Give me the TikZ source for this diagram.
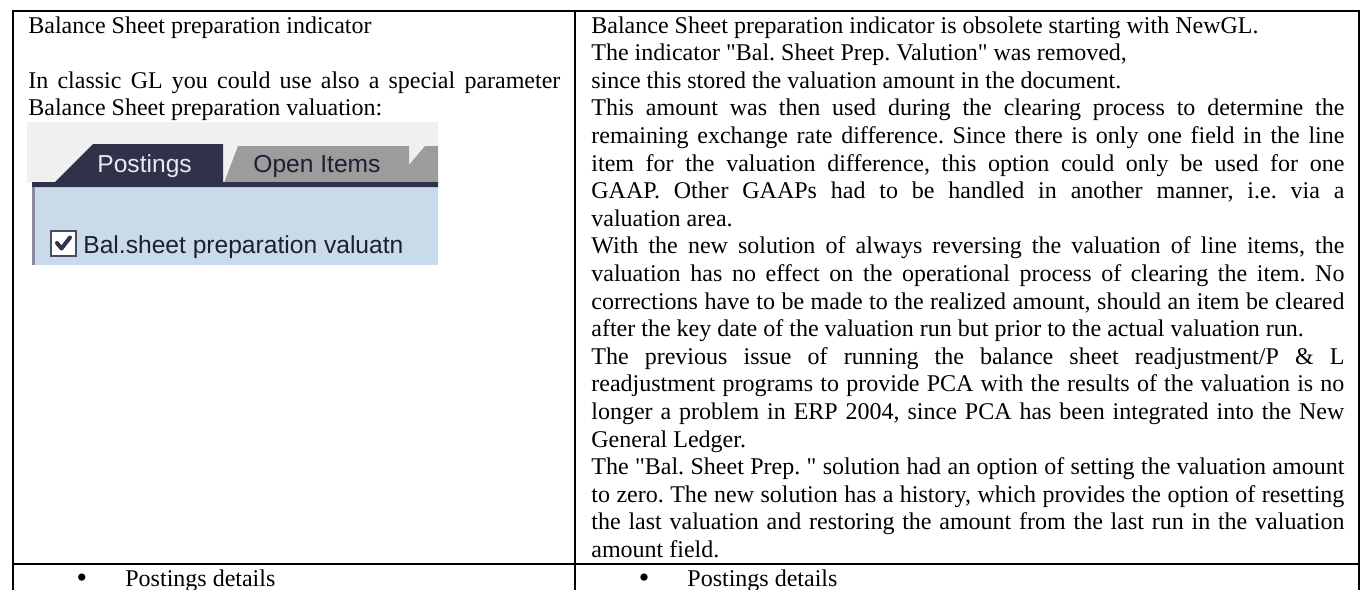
\documentclass[tikz,border=0pt]{standalone}
\usepackage{fontspec}
\setmainfont{Liberation Serif}
\newfontfamily\plainserif{Liberation Serif}
\newfontfamily\guifont{Liberation Sans}
\definecolor{tabbg}{HTML}{F0F0F0}
\definecolor{bluebg}{HTML}{C9DAEA}
\definecolor{greytab}{HTML}{9C9C9C}
\definecolor{darknavy}{HTML}{30324A}
\definecolor{edgegrey}{HTML}{8C8C9C}
\definecolor{guitext}{HTML}{1E1E34}
\definecolor{tabfg}{HTML}{E8E8F2}
\newcommand\J[1]{\makebox[\linewidth][s]{#1}}
\frenchspacing
\begin{document}
\frenchspacing
\begin{tikzpicture}[x=0.5pt,y=-0.5pt,
  txt/.style={inner sep=0pt, anchor=base west, font=\plainserif\fontsize{12pt}{13.8pt}\selectfont\frenchspacing},
  bul/.style={inner sep=0pt, anchor=base, font=\plainserif\fontsize{15pt}{15pt}\selectfont},
  gui/.style={inner sep=0pt, anchor=base west, font=\guifont\fontsize{12.3pt}{14pt}\selectfont},
  grid/.style={line width=0.75pt, draw=black}]
\useasboundingbox (0,0) rectangle (1364,589);
\begin{scope}
\clip (0,0) rectangle (1364,589);
\draw[grid] (13,600) -- (13,11) -- (1359,11) -- (1359,600);
\draw[grid] (575,11) -- (575,600);
\draw[grid] (13,564) -- (1359,564);
\end{scope}
% left column text
\node[txt] (lefttext) at (28,33) {\parbox[t]{266pt}{\frenchspacing%
Balance Sheet preparation indicator\\
\mbox{}\\
\J{In classic GL you could use also a special parameter}\\
Balance Sheet preparation valuation:}};
% screenshot
\fill[tabbg] (27,122) rectangle (438,183);
\fill[bluebg] (32,183) rectangle (438,265);
\fill[greytab] (224,183) -- (238,146) -- (409,146) -- (409,165) -- (425,146) -- (438,146) -- (438,183) -- cycle;
\fill[darknavy] (32,187) -- (32,182) -- (55,182) -- (93,144) -- (223,144) -- (223,182) -- (438,182) -- (438,187) -- cycle;
\fill[edgegrey] (32,187) rectangle (34.5,265);
\draw[fill=white, draw=guitext!80, line width=1pt] (51,231) rectangle (76,256);
\draw[line width=2pt, darknavy, line cap=round, line join=round] (57,243) -- (61.5,248.5) -- (70,237.5);
\node[gui, text=tabfg] (tabpost) at (97,172) {Postings};
\node[gui, text=guitext] (tabopen) at (253,172) {Open Items};
\node[gui, text=guitext] (cblabel) at (83,253) {Bal.sheet preparation valuatn};
% right column text
\node[txt] (righttext) at (591,33) {\parbox[t]{376.5pt}{\frenchspacing%
Balance Sheet preparation indicator is obsolete starting with NewGL.\\
The indicator "Bal. Sheet Prep. Valution" was removed,\\
since this stored the valuation amount in the document.\\
\J{This amount was then used during the clearing process to determine the}\\
\J{remaining exchange rate difference. Since there is only one field in the line}\\
\J{item for the valuation difference, this option could only be used for one}\\
\J{GAAP. Other GAAPs had to be handled in another manner, i.e. via a}\\
valuation area.\\
\J{With the new solution of always reversing the valuation of line items, the}\\
\J{valuation has no effect on the operational process of clearing the item. No}\\
\J{corrections have to be made to the realized amount, should an item be cleared}\\
after the key date of the valuation run but prior to the actual valuation run.\\
\J{The previous issue of running the balance sheet readjustment/P \& L}\\
\J{readjustment programs to provide PCA with the results of the valuation is no}\\
\J{longer a problem in ERP 2004, since PCA has been integrated into the New}\\
General Ledger.\\
\J{The "Bal. Sheet Prep. " solution had an option of setting the valuation amount}\\
\J{to zero. The new solution has a history, which provides the option of resetting}\\
\J{the last valuation and restoring the amount from the last run in the valuation}\\
amount field.}};
% row 2
\node[bul] (bul1) at (82,587) {\textbullet};
\node[txt] (post1) at (125,586) {Postings details};
\node[bul] (bul2) at (644,587) {\textbullet};
\node[txt] (post2) at (687,586) {Postings details};
\end{tikzpicture}
\end{document}
